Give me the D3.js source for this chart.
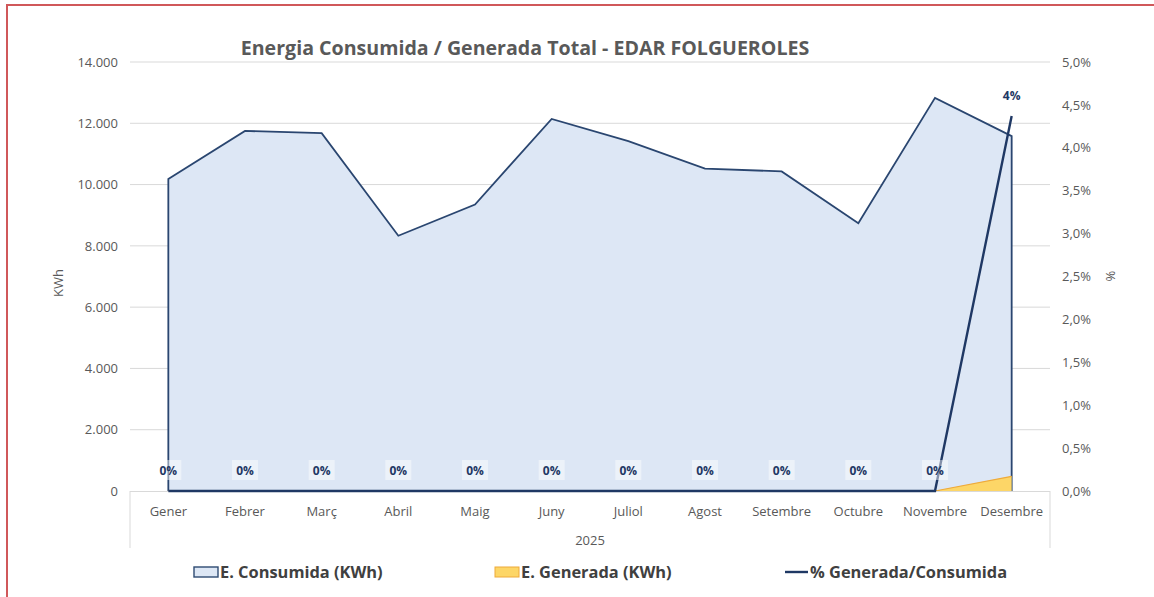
<!DOCTYPE html>
<html>
<head>
<meta charset="utf-8">
<script src="https://cdn.jsdelivr.net/npm/d3@7"></script>
<style>
  html, body { margin: 0; padding: 0; background: #fff; }
  svg { display: block; }
  text { font-family: "Open Sans", "Liberation Sans", sans-serif; }
</style>
</head>
<body>
<svg id="chart" width="1154" height="597"></svg>
<script>
// Monthly data, 2025
const months = ["Gener", "Febrer", "Març", "Abril", "Maig", "Juny", "Juliol", "Agost", "Setembre", "Octubre", "Novembre", "Desembre"];
const consumida = [10180, 11750, 11680, 8330, 9350, 12140, 11420, 10520, 10430, 8740, 12830, 11580];
const generada = [0, 0, 0, 0, 0, 0, 0, 0, 0, 0, 0, 480];
const pctGenerada = [0, 0, 0, 0, 0, 0, 0, 0, 0, 0, 0, 0.0437];
const leftTicks = [0, 2000, 4000, 6000, 8000, 10000, 12000, 14000];
const rightTicks = [0, 0.005, 0.01, 0.015, 0.02, 0.025, 0.03, 0.035, 0.04, 0.045, 0.05];
const yearLabel = "2025";
const titleText = "Energia Consumida / Generada Total - EDAR FOLGUEROLES";
const legendItems = ["E. Consumida (KWh)", "E. Generada (KWh)", "% Generada/Consumida"];

const svg = d3.select("#chart");
const plot = { left: 130, right: 1050, top: 62, bottom: 491 };

const x = d3.scaleBand().domain(months).range([plot.left, plot.right]);
const xc = m => x(m) + x.bandwidth() / 2;
const yL = d3.scaleLinear().domain([0, 14000]).range([plot.bottom, plot.top]);
const yR = d3.scaleLinear().domain([0, 0.05]).range([plot.bottom, plot.top]);

const numFmt = d3.formatLocale({ decimal: ",", thousands: ".", grouping: [3], currency: ["", "€"] });
const fmtK = numFmt.format(",.0f");
const fmtP1 = numFmt.format(".1%");
const fmtP0 = numFmt.format(".0%");

// Frame lines
svg.append("line").attr("x1", 6).attr("x2", 1154).attr("y1", 5).attr("y2", 5)
  .attr("stroke", "#d0585a").attr("stroke-width", 2);
svg.append("line").attr("x1", 7).attr("x2", 7).attr("y1", 5).attr("y2", 597)
  .attr("stroke", "#d0585a").attr("stroke-width", 2);

// Gridlines
svg.append("g").selectAll("line").data(leftTicks.slice(1)).join("line")
  .attr("x1", plot.left).attr("x2", plot.right)
  .attr("y1", d => yL(d)).attr("y2", d => yL(d))
  .attr("stroke", "#d9d9d9").attr("stroke-width", 1);

// Left axis
const gL = svg.append("g").attr("transform", `translate(${plot.left},0)`)
  .call(d3.axisLeft(yL).tickValues(leftTicks).tickFormat(fmtK).tickSize(0).tickPadding(12));
gL.select(".domain").remove();
gL.selectAll("text").attr("fill", "#595959").style("font-size", "13px");

// Right axis
const gR = svg.append("g").attr("transform", `translate(${plot.right},0)`)
  .call(d3.axisRight(yR).tickValues(rightTicks).tickFormat(fmtP1).tickSize(0).tickPadding(12));
gR.select(".domain").remove();
gR.selectAll("text").attr("fill", "#595959").style("font-size", "13px");

// Consumed energy area
const area = d3.area().x((d, i) => xc(months[i])).y0(yL(0)).y1(d => yL(d));
svg.append("path").datum(consumida).attr("d", area)
  .attr("fill", "#dde7f5").attr("stroke", "#2a4670").attr("stroke-width", 1.8)
  .attr("stroke-linejoin", "miter");

// Generated energy area
svg.append("path").datum(generada).attr("d", area)
  .attr("fill", "#fdd667").attr("stroke", "none");
svg.append("path").datum(generada)
  .attr("d", d3.line().x((d, i) => xc(months[i])).y(d => yL(d)))
  .attr("fill", "none").attr("stroke", "#eeaa3a").attr("stroke-width", 1.2);

// X axis line and category box
const gx = svg.append("g");
gx.append("line").attr("x1", plot.left).attr("x2", plot.right)
  .attr("y1", plot.bottom + 0.5).attr("y2", plot.bottom + 0.5)
  .attr("stroke", "#d9d9d9");
[plot.left, plot.right].forEach(px => gx.append("line")
  .attr("x1", px).attr("x2", px).attr("y1", plot.bottom).attr("y2", 548)
  .attr("stroke", "#d9d9d9"));
gx.selectAll("text.m").data(months).join("text").attr("class", "m")
  .attr("x", d => xc(d)).attr("y", 516).attr("text-anchor", "middle")
  .attr("fill", "#595959").style("font-size", "13px").text(d => d);
gx.append("text").attr("x", (plot.left + plot.right) / 2).attr("y", 545)
  .attr("text-anchor", "middle").attr("fill", "#595959").style("font-size", "13px").text(yearLabel);

// Percentage line (secondary axis)
const pctLine = d3.line().x((d, i) => xc(months[i])).y(d => yR(d));
svg.append("path").datum(pctGenerada).attr("d", pctLine)
  .attr("fill", "none").attr("stroke", "#1f3864").attr("stroke-width", 2.4);

// Data labels
const lab = svg.append("g");
pctGenerada.forEach((v, i) => {
  const cx = xc(months[i]);
  const cy = yR(v) - 21;
  if (v === 0) {
    lab.append("rect").attr("x", cx - 13).attr("y", cy - 10).attr("width", 26).attr("height", 20)
      .attr("fill", "#ffffff").attr("fill-opacity", 0.45);
  }
  lab.append("text").attr("x", cx).attr("y", cy + 4.5).attr("text-anchor", "middle")
    .attr("fill", "#1f3864").style("font-size", "12px").style("font-weight", "bold")
    .text(fmtP0(v));
});

// Axis titles
svg.append("text").attr("transform", "translate(63,283) rotate(-90)")
  .attr("text-anchor", "middle").attr("fill", "#595959").style("font-size", "13px").text("KWh");
svg.append("text").attr("transform", "translate(1106,276) rotate(90)")
  .attr("text-anchor", "middle").attr("fill", "#595959").style("font-size", "13px").text("%");

// Title
svg.append("text").attr("x", 525).attr("y", 55).attr("text-anchor", "middle")
  .attr("fill", "#595959").style("font-size", "19.6px").style("font-weight", "bold").text(titleText);

// Legend
const lg = svg.append("g").style("font-size", "16.4px").style("font-weight", "bold");
lg.append("rect").attr("x", 194).attr("y", 567).attr("width", 24).attr("height", 10)
  .attr("fill", "#dde7f5").attr("stroke", "#2e4a72").attr("stroke-width", 1.4);
lg.append("text").attr("x", 220).attr("y", 578).attr("fill", "#404040").text(legendItems[0]);
lg.append("rect").attr("x", 495).attr("y", 567).attr("width", 24).attr("height", 10)
  .attr("fill", "#fdd667").attr("stroke", "#eeaa3a").attr("stroke-width", 1);
lg.append("text").attr("x", 521).attr("y", 578).attr("fill", "#404040").text(legendItems[1]);
lg.append("line").attr("x1", 785).attr("x2", 808).attr("y1", 572).attr("y2", 572)
  .attr("stroke", "#1f3864").attr("stroke-width", 2.4);
lg.append("text").attr("x", 810).attr("y", 578).attr("fill", "#404040").text(legendItems[2]);
</script>
</body>
</html>
